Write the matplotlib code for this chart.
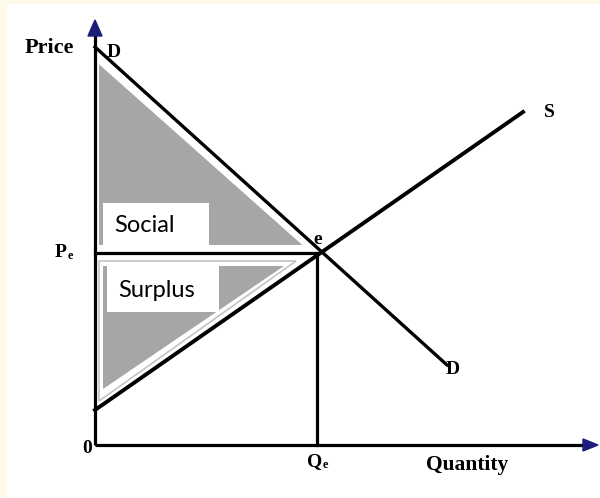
import matplotlib.pyplot as plt
from matplotlib.patches import Polygon, Rectangle

# coordinates measured from the origin of the diagram (pixel-like units)
demand_q = [0, 352]
demand_p = [398, 80]
supply_q = [0, 428]
supply_p = [35, 333]
q_eq, p_eq = 222, 192
q_axis_end, p_axis_end = 503, 425

cs_q = [3, 3, 210]          # consumer surplus triangle
cs_p = [383, 199, 199]
ps_q = [5, 5, 195]          # producer surplus triangle
ps_p = [182, 50, 182]

serif = 'Liberation Serif'
navy = '#1c1c7a'
gray = '#a6a6a6'

fig = plt.figure(figsize=(6, 4.98), dpi=100, facecolor='#fef9e8')
ax = fig.add_axes([0, 0, 1, 1])
ax.set_xlim(-95, 505); ax.set_ylim(-53, 445)
ax.axis('off')
ax.add_patch(Rectangle((-88, -53), 600, 494, facecolor='white', edgecolor='none', zorder=0))

# surplus areas
ax.add_patch(Polygon(list(zip(cs_q, cs_p)), closed=True, facecolor=gray,
                     edgecolor='white', lw=1.5, zorder=1))
ax.add_patch(Polygon(list(zip([ps_q[0]-1, ps_q[1]-1, ps_q[2]+6], [ps_p[0]+2, ps_p[1]-6, ps_p[2]+2])),
                     closed=True, facecolor='white', edgecolor='#c4c4c4', lw=1.2, zorder=1))
ax.add_patch(Polygon(list(zip([ps_q[0]+3, ps_q[1]+3, ps_q[2]-6], [ps_p[0]-3, ps_p[1]+6, ps_p[2]-3])),
                     closed=True, facecolor=gray, edgecolor='none', zorder=1))

# text boxes
ax.add_patch(Rectangle((8, 200), 106, 42, facecolor='white', edgecolor='none', zorder=2))
ax.add_patch(Rectangle((12, 133), 112, 50, facecolor='white', edgecolor='none', zorder=2))
ax.text(19, 220, 'Social', fontsize=17, family='Lato', va='center', ha='left', zorder=3)
ax.text(23, 155, 'Surplus', fontsize=17, family='Lato', va='center', ha='left', zorder=3)

# axes with navy arrowheads
ax.plot([0, 0], [0, p_axis_end - 12], color='black', lw=2.3, zorder=4, solid_capstyle='butt')
ax.plot([0, q_axis_end - 12], [0, 0], color='black', lw=2.3, zorder=4, solid_capstyle='butt')
ax.add_patch(Polygon([(-7, p_axis_end - 16), (7, p_axis_end - 16), (0, p_axis_end)],
                     closed=True, color=navy, zorder=5))
ax.add_patch(Polygon([(q_axis_end - 15, -6), (q_axis_end - 15, 6), (q_axis_end, 0)],
                     closed=True, color=navy, zorder=5))

# demand, supply, equilibrium lines
ax.plot(demand_q, demand_p, color='black', lw=2.4, zorder=4)
ax.plot(supply_q, supply_p, color='black', lw=2.8, zorder=4)
ax.plot([0, q_eq], [p_eq, p_eq], color='black', lw=2.3, zorder=4)
ax.plot([q_eq, q_eq], [p_eq, 0], color='black', lw=2.3, zorder=4)

# labels
lab = dict(family=serif, weight='bold', zorder=6)
ax.text(-46, 397, 'Price', fontsize=16, ha='center', va='center', **lab)
ax.text(19, 393, 'D', fontsize=14, ha='center', va='center', **lab)
ax.text(358, 76, 'D', fontsize=14, ha='center', va='center', **lab)
ax.text(454, 333, 'S', fontsize=14, ha='center', va='center', **lab)
ax.text(q_eq + 1, p_eq + 14, 'e', fontsize=14, ha='center', va='center', **lab)
ax.text(-8, -3, '0', fontsize=14, ha='center', va='center', **lab)
ax.text(-34, p_eq + 1, 'P', fontsize=14, ha='center', va='center', **lab)
ax.text(-25, p_eq - 3, 'e', fontsize=9, ha='center', va='center', **lab)
ax.text(q_eq - 2, -17, 'Q', fontsize=14, ha='center', va='center', **lab)
ax.text(q_eq + 8, -20, 'e', fontsize=9, ha='center', va='center', **lab)
ax.text(372, -20, 'Quantity', fontsize=15.5, ha='center', va='center', **lab)

fig.savefig('out.png', dpi=100, facecolor=fig.get_facecolor())
